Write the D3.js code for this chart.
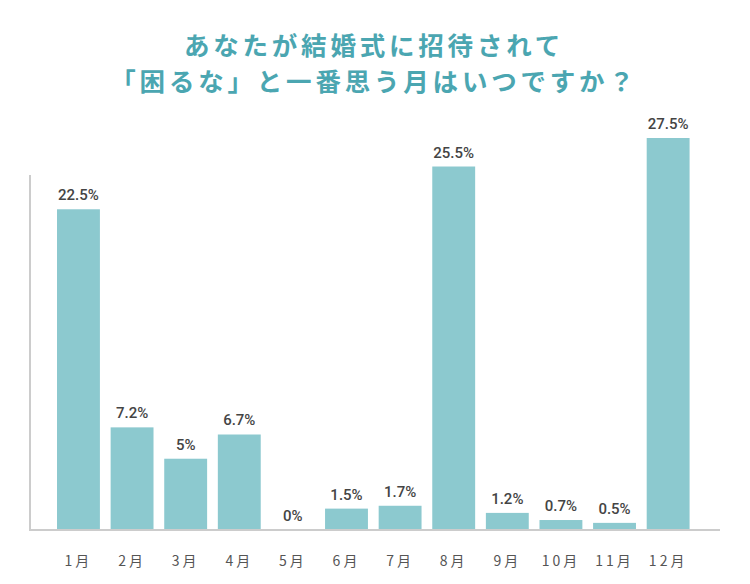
<!DOCTYPE html>
<html><head><meta charset="utf-8">
<script src="https://cdn.jsdelivr.net/npm/d3@7"></script>
<style>body{margin:0;background:#fff}</style>
</head><body>
<svg id="c" width="750" height="584"></svg>
<script>
const months = ["1月","2月","3月","4月","5月","6月","7月","8月","9月","10月","11月","12月"];
const values = [22.5,7.2,5,6.7,0,1.5,1.7,25.5,1.2,0.7,0.5,27.5];
const valueLabels = ["22.5%","7.2%","5%","6.7%","0%","1.5%","1.7%","25.5%","1.2%","0.7%","0.5%","27.5%"];
const titleLines = ["あなたが結婚式に招待されて","「困るな」と一番思う月はいつですか？"];

const svg = d3.select("#c");
const x = d3.scaleBand().domain(months).range([46.3,700.3]).paddingInner(0.2).paddingOuter(0.2);
const y = d3.scaleLinear().domain([0,27.5]).range([530,138]);

svg.selectAll("text.title").data(titleLines).enter().append("text")
  .attr("x",374).attr("y",(d,i)=>55+i*36).attr("text-anchor","middle")
  .attr("font-family","'Noto Sans CJK JP'").attr("font-weight","bold").attr("font-size",25.5)
  .attr("letter-spacing",3.8).attr("fill","#4ba6b1").text(d=>d);

svg.selectAll("rect.bar").data(values).enter().append("rect")
  .attr("x",(d,i)=>x(months[i])).attr("width",x.bandwidth())
  .attr("y",d=>y(d)).attr("height",d=>y(0)-y(d)).attr("fill","#8cc9cf");

svg.selectAll("text.val").data(values).enter().append("text")
  .attr("x",(d,i)=>x(months[i])+x.bandwidth()/2).attr("y",d=>y(d)-9)
  .attr("text-anchor","middle").attr("font-family","Roboto").attr("font-weight","500")
  .attr("font-size",15).attr("fill","#444").text((d,i)=>valueLabels[i]);

svg.append("line").attr("x1",30).attr("x2",30).attr("y1",175).attr("y2",y(0)+1)
  .attr("stroke","#ccc").attr("stroke-width",2);
svg.append("line").attr("x1",29).attr("x2",720).attr("y1",y(0)).attr("y2",y(0))
  .attr("stroke","#ccc").attr("stroke-width",2);

const ax = svg.append("g").attr("transform",`translate(0,${y(0)})`)
  .call(d3.axisBottom(x).tickSize(0).tickPadding(0));
ax.select(".domain").remove();
ax.selectAll("text").attr("y",26).attr("font-family","'Noto Sans CJK JP'")
  .attr("font-size",14).attr("fill","#555").attr("letter-spacing",3);
</script>
</body></html>
